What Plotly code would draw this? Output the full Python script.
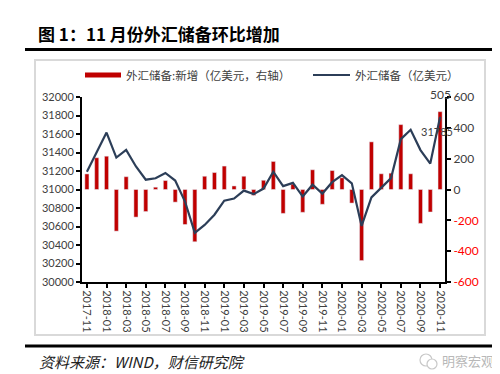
import plotly.graph_objects as go

months = ["2017-11", "2017-12", "2018-01", "2018-02", "2018-03", "2018-04", "2018-05",
          "2018-06", "2018-07", "2018-08", "2018-09", "2018-10", "2018-11", "2018-12",
          "2019-01", "2019-02", "2019-03", "2019-04", "2019-05", "2019-06", "2019-07",
          "2019-08", "2019-09", "2019-10", "2019-11", "2019-12", "2020-01", "2020-02",
          "2020-03", "2020-04", "2020-05", "2020-06", "2020-07", "2020-08", "2020-09",
          "2020-10", "2020-11"]
reserves = [31193, 31399, 31615, 31345, 31428, 31249, 31106, 31121, 31179, 31097,
            30870, 30531, 30617, 30727, 30879, 30902, 30988, 30950, 31010, 31192,
            31037, 31072, 30924, 31052, 30956, 31079, 31155, 31067, 30606, 30915,
            31017, 31123, 31544, 31646, 31426, 31280, 31785]
change = [101, 206, 216, -270, 83, -179, -143, 15, 58, -82, -227, -339, 86, 110,
          152, 23, 86, -38, 60, 182, -155, 35, -148, 128, -96, 123, 76, -88, -461,
          309, 102, 106, 421, 102, -220, -146, 505]
left_ticks = [30000, 30200, 30400, 30600, 30800, 31000, 31200, 31400, 31600, 31800, 32000]
right_ticks = [-600, -400, -200, 0, 200, 400, 600]

W, H = 500, 374
L, R, T, B = 74, 437, 89, 274
PW, PH = R - L, B - T


def px(x):
    return (x - L) / PW


def py(y):
    return (B - y) / PH


NUM_FONT = "Lato, 'Noto Sans CJK SC', sans-serif"
CJK_FONT = "'Noto Sans CJK SC', sans-serif"
GRAY = "#404040"
RED = "#c00000"
NAVY = "#2c3e58"

fig = go.Figure()
fig.add_trace(go.Bar(x=months, y=change, marker_color=RED, yaxis="y",
                     name="外汇储备:新增（亿美元，右轴）", showlegend=False))
fig.add_trace(go.Scatter(x=months, y=reserves, mode="lines", yaxis="y2",
                         line=dict(color=NAVY, width=2.2),
                         name="外汇储备（亿美元）", showlegend=False))

right_text = [f'<span style="color:#ff0000">{v}</span>' if v < 0 else str(v) for v in right_ticks]
left_text = [str(v) for v in left_ticks]

fig.update_layout(
    width=W, height=H,
    margin=dict(l=L, r=W - R, t=T, b=H - B, pad=0),
    paper_bgcolor="white", plot_bgcolor="white",
    bargap=0.58,
    font=dict(family=NUM_FONT, size=11, color=GRAY),
    xaxis=dict(type="category", range=[-0.5, len(months) - 0.5],
               tickvals=months[::2], ticktext=months[::2], tickangle=90,
               ticks="outside", ticklen=4, tickcolor="black", tickwidth=1.5,
               showline=True, linecolor="black", linewidth=2, showgrid=False,
               tickfont=dict(family=NUM_FONT, size=11, color=GRAY)),
    yaxis=dict(side="right", range=[-600, 600], tickvals=right_ticks, ticktext=right_text,
               ticks="outside", ticklen=4, tickcolor="black", tickwidth=1.5,
               showline=True, linecolor="black", linewidth=2, showgrid=False,
               zeroline=False, tickfont=dict(family=NUM_FONT, size=12, color=GRAY)),
    yaxis2=dict(side="left", overlaying="y", range=[30000, 32000], tickvals=left_ticks,
                ticktext=left_text,
                ticks="outside", ticklen=4, tickcolor="black", tickwidth=1.5,
                showline=True, linecolor="black", linewidth=2, showgrid=False,
                zeroline=False, tickfont=dict(family=NUM_FONT, size=11, color=GRAY)),
)

shapes = []
# title separator lines
shapes.append(dict(type="line", xref="paper", yref="paper", x0=px(17), x1=px(487),
                   y0=py(41.5), y1=py(41.5), line=dict(color="black", width=3)))
shapes.append(dict(type="line", xref="paper", yref="paper", x0=px(17), x1=px(487),
                   y0=py(338), y1=py(338), line=dict(color="black", width=3)))
# chart frame
shapes.append(dict(type="rect", xref="paper", yref="paper", x0=px(27), x1=px(477),
                   y0=py(327), y1=py(52), line=dict(color="#d9d9d9", width=2),
                   layer="below"))
# legend swatches
shapes.append(dict(type="rect", xref="paper", yref="paper", x0=px(77), x1=px(113),
                   y0=py(69.5), y1=py(64.5), fillcolor=RED, line=dict(width=0)))
shapes.append(dict(type="line", xref="paper", yref="paper", x0=px(305), x1=px(342),
                   y0=py(67), y1=py(67), line=dict(color=NAVY, width=2)))
# watermark icon
shapes.append(dict(type="circle", xref="paper", yref="paper", x0=px(412), x1=px(424),
                   y0=py(358), y1=py(346), line=dict(color="#c8c8c8", width=1.2)))
shapes.append(dict(type="circle", xref="paper", yref="paper", x0=px(419), x1=px(429),
                   y0=py(361), y1=py(351), line=dict(color="#c8c8c8", width=1.2),
                   fillcolor="white"))
fig.update_layout(shapes=shapes)

ann = []
ann.append(dict(text="<b>图 1：11 月份外汇储备环比增加</b>", xref="paper", yref="paper",
                x=px(28), y=py(26), xanchor="left", yanchor="middle", showarrow=False,
                font=dict(family=CJK_FONT, size=17, color="black")))
ann.append(dict(text="外汇储备:新增（亿美元，右轴）", xref="paper", yref="paper",
                x=px(116), y=py(67), xanchor="left", yanchor="middle", showarrow=False,
                font=dict(family=CJK_FONT, size=11.5, color=GRAY)))
ann.append(dict(text="外汇储备（亿美元）", xref="paper", yref="paper",
                x=px(345), y=py(67), xanchor="left", yanchor="middle", showarrow=False,
                font=dict(family=CJK_FONT, size=11.5, color=GRAY)))
ann.append(dict(text="<i>资料来源：WIND，财信研究院</i>", xref="paper", yref="paper",
                x=px(29), y=py(353), xanchor="left", yanchor="middle", showarrow=False,
                font=dict(family=CJK_FONT, size=15, color="#222222")))
ann.append(dict(text="明察宏观", xref="paper", yref="paper",
                x=px(432), y=py(352), xanchor="left", yanchor="middle", showarrow=False,
                font=dict(family=CJK_FONT, size=13, color="#b8b8b8")))
# data labels
ann.append(dict(text=str(change[-1]), x=months[-1], y=change[-1], xref="x", yref="y",
                xanchor="center", yanchor="bottom", yshift=8, showarrow=False,
                font=dict(family=NUM_FONT, size=12, color=GRAY)))
ann.append(dict(text=str(reserves[-1]), x=months[-1], y=reserves[-1], xref="x", yref="y2",
                xanchor="center", yanchor="top", yshift=-6, xshift=-3, showarrow=False,
                font=dict(family=NUM_FONT, size=11, color=GRAY)))
fig.update_layout(annotations=ann)

fig.write_html("out.html")
